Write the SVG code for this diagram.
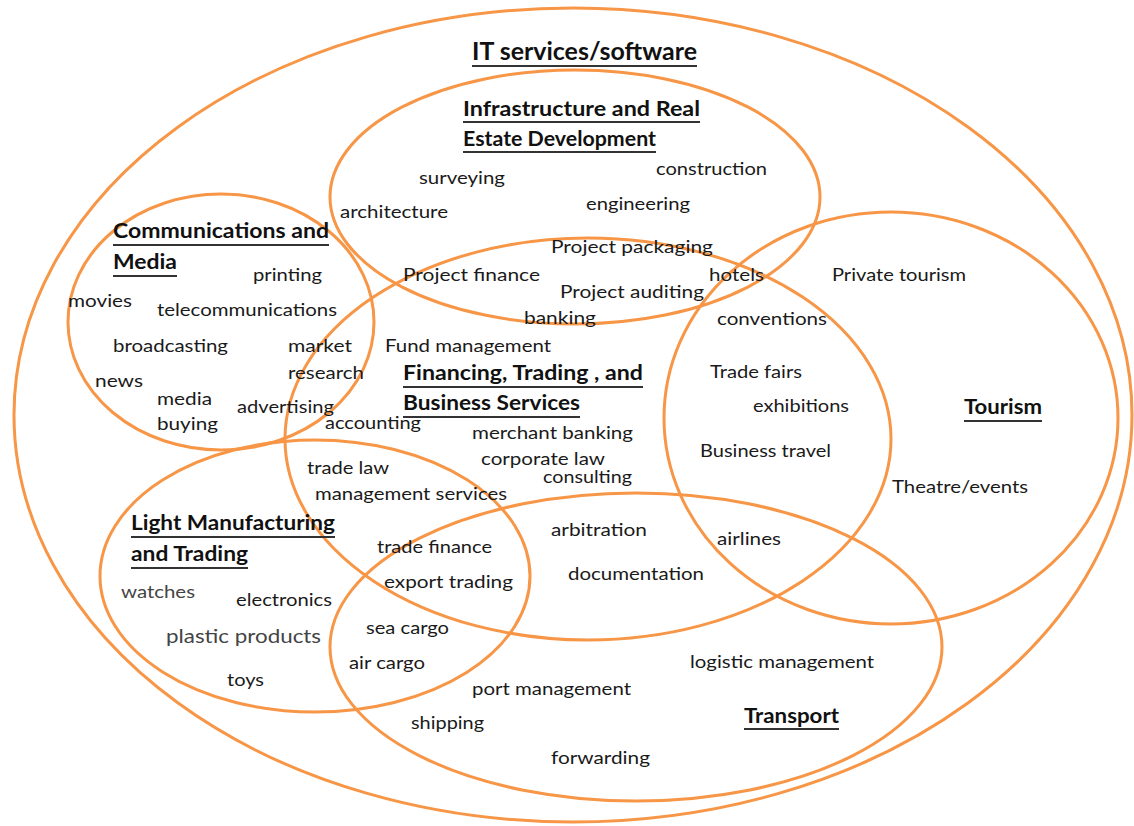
<svg xmlns="http://www.w3.org/2000/svg" width="1134" height="826" viewBox="0 0 1134 826">
  <style>
    .set { fill: none; stroke: #F79646; stroke-width: 3; }
    .head { font-family: Lato, "Liberation Sans", sans-serif; font-weight: bold; font-size: 20px; fill: #111; }
    .title { font-family: Lato, "Liberation Sans", sans-serif; font-weight: bold; font-size: 25px; fill: #111; }
    .uline { stroke: #333; stroke-width: 2; }
    .item { font-family: Lato, "Liberation Sans", sans-serif; font-size: 18px; fill: #1a1a1a; }
    .soft { fill: #444; }
  </style>
  <rect width="1134" height="826" fill="#fff"/>

  <!-- outer set -->
  <g id="it-services">
    <ellipse class="set" cx="573" cy="415" rx="559" ry="407"/>
    <text class="title" x="472" y="60" textLength="225" lengthAdjust="spacingAndGlyphs">IT services/software</text>
    <line class="uline" x1="472" y1="66" x2="697" y2="66"/>
  </g>

  <g id="infrastructure">
    <ellipse class="set" cx="575" cy="197" rx="245" ry="127"/>
    <text class="head" x="463" y="116" textLength="237" lengthAdjust="spacingAndGlyphs">Infrastructure and Real</text>
    <line class="uline" x1="463" y1="122" x2="700" y2="122"/>
    <text class="head" x="463" y="146" textLength="193" lengthAdjust="spacingAndGlyphs">Estate Development</text>
    <line class="uline" x1="463" y1="152" x2="656" y2="152"/>
  </g>

  <g id="communications">
    <ellipse class="set" cx="221" cy="322" rx="153" ry="128"/>
    <text class="head" x="113" y="238" textLength="216" lengthAdjust="spacingAndGlyphs">Communications  and</text>
    <line class="uline" x1="113" y1="245" x2="329" y2="245"/>
    <text class="head" x="113" y="269" textLength="64" lengthAdjust="spacingAndGlyphs">Media</text>
    <line class="uline" x1="113" y1="276" x2="177" y2="276"/>
  </g>

  <g id="financing">
    <ellipse class="set" cx="588" cy="439" rx="303" ry="201"/>
    <text class="head" x="403" y="380" textLength="240" lengthAdjust="spacingAndGlyphs">Financing, Trading , and</text>
    <line class="uline" x1="403" y1="387" x2="643" y2="387"/>
    <text class="head" x="403" y="410" textLength="177" lengthAdjust="spacingAndGlyphs">Business Services</text>
    <line class="uline" x1="403" y1="417" x2="580" y2="417"/>
  </g>

  <g id="tourism">
    <ellipse class="set" cx="891" cy="418" rx="227" ry="206"/>
    <text class="head" x="964" y="414" textLength="78" lengthAdjust="spacingAndGlyphs">Tourism</text>
    <line class="uline" x1="964" y1="421" x2="1042" y2="421"/>
  </g>

  <g id="light-manufacturing">
    <ellipse class="set" cx="315" cy="576" rx="215" ry="136"/>
    <text class="head" x="131" y="530" textLength="204" lengthAdjust="spacingAndGlyphs">Light Manufacturing</text>
    <line class="uline" x1="131" y1="537" x2="335" y2="537"/>
    <text class="head" x="131" y="561" textLength="117" lengthAdjust="spacingAndGlyphs">and Trading</text>
    <line class="uline" x1="131" y1="568" x2="248" y2="568"/>
  </g>

  <g id="transport">
    <ellipse class="set" cx="636" cy="647" rx="306" ry="154"/>
    <text class="head" x="744" y="723" textLength="95" lengthAdjust="spacingAndGlyphs">Transport</text>
    <line class="uline" x1="744" y1="729" x2="839" y2="729"/>
  </g>

  <!-- activities placed by the sets they belong to -->
  <g id="items" class="item">
    <text x="419" y="184" textLength="86" lengthAdjust="spacingAndGlyphs">surveying</text>
    <text x="656" y="175" textLength="111" lengthAdjust="spacingAndGlyphs">construction</text>
    <text x="340" y="218" textLength="108" lengthAdjust="spacingAndGlyphs">architecture</text>
    <text x="586" y="210" textLength="104" lengthAdjust="spacingAndGlyphs">engineering</text>
    <text x="551" y="253" textLength="162" lengthAdjust="spacingAndGlyphs">Project  packaging</text>
    <text x="253" y="281" textLength="69" lengthAdjust="spacingAndGlyphs">printing</text>
    <text x="403" y="281" textLength="137" lengthAdjust="spacingAndGlyphs">Project  finance</text>
    <text x="709" y="281" textLength="55" lengthAdjust="spacingAndGlyphs">hotels</text>
    <text x="832" y="281" textLength="134" lengthAdjust="spacingAndGlyphs">Private tourism</text>
    <text x="68" y="307" textLength="64" lengthAdjust="spacingAndGlyphs">movies</text>
    <text x="157" y="316" textLength="180" lengthAdjust="spacingAndGlyphs">telecommunications</text>
    <text x="560" y="298" textLength="144" lengthAdjust="spacingAndGlyphs">Project  auditing</text>
    <text x="524" y="324" textLength="72" lengthAdjust="spacingAndGlyphs">banking</text>
    <text x="717" y="325" textLength="110" lengthAdjust="spacingAndGlyphs">conventions</text>
    <text x="113" y="352" textLength="115" lengthAdjust="spacingAndGlyphs">broadcasting</text>
    <text x="288" y="352" textLength="64" lengthAdjust="spacingAndGlyphs">market</text>
    <text x="385" y="352" textLength="166" lengthAdjust="spacingAndGlyphs">Fund management</text>
    <text x="288" y="379" textLength="76" lengthAdjust="spacingAndGlyphs">research</text>
    <text x="95" y="387" textLength="48" lengthAdjust="spacingAndGlyphs">news</text>
    <text x="710" y="378" textLength="92" lengthAdjust="spacingAndGlyphs">Trade fairs</text>
    <text x="157" y="405" textLength="55" lengthAdjust="spacingAndGlyphs">media</text>
    <text x="237" y="413" textLength="97" lengthAdjust="spacingAndGlyphs">advertising</text>
    <text x="753" y="412" textLength="96" lengthAdjust="spacingAndGlyphs">exhibitions</text>
    <text x="157" y="430" textLength="61" lengthAdjust="spacingAndGlyphs">buying</text>
    <text x="325" y="429" textLength="96" lengthAdjust="spacingAndGlyphs">accounting</text>
    <text x="472" y="439" textLength="161" lengthAdjust="spacingAndGlyphs">merchant banking</text>
    <text x="700" y="457" textLength="131" lengthAdjust="spacingAndGlyphs">Business travel</text>
    <text x="307" y="474" textLength="82" lengthAdjust="spacingAndGlyphs">trade law</text>
    <text x="481" y="465" textLength="124" lengthAdjust="spacingAndGlyphs">corporate law</text>
    <text x="543" y="483" textLength="89" lengthAdjust="spacingAndGlyphs">consulting</text>
    <text x="892" y="493" textLength="136" lengthAdjust="spacingAndGlyphs">Theatre/events</text>
    <text x="315" y="500" textLength="192" lengthAdjust="spacingAndGlyphs">management services</text>
    <text x="551" y="536" textLength="96" lengthAdjust="spacingAndGlyphs">arbitration</text>
    <text x="717" y="545" textLength="64" lengthAdjust="spacingAndGlyphs">airlines</text>
    <text x="377" y="553" textLength="115" lengthAdjust="spacingAndGlyphs">trade finance</text>
    <text x="568" y="580" textLength="136" lengthAdjust="spacingAndGlyphs">documentation</text>
    <text x="384" y="588" textLength="129" lengthAdjust="spacingAndGlyphs">export  trading</text>
    <text class="soft" x="121" y="598" textLength="74" lengthAdjust="spacingAndGlyphs">watches</text>
    <text x="236" y="606" textLength="96" lengthAdjust="spacingAndGlyphs">electronics</text>
    <text x="366" y="634" textLength="83" lengthAdjust="spacingAndGlyphs">sea cargo</text>
    <text class="soft" x="166" y="643" font-size="20" textLength="155" lengthAdjust="spacingAndGlyphs">plastic products</text>
    <text x="349" y="669" textLength="76" lengthAdjust="spacingAndGlyphs">air cargo</text>
    <text x="690" y="668" textLength="184" lengthAdjust="spacingAndGlyphs">logistic management</text>
    <text x="227" y="686" textLength="37" lengthAdjust="spacingAndGlyphs">toys</text>
    <text x="472" y="695" textLength="159" lengthAdjust="spacingAndGlyphs">port management</text>
    <text x="411" y="729" textLength="73" lengthAdjust="spacingAndGlyphs">shipping</text>
    <text x="551" y="764" textLength="99" lengthAdjust="spacingAndGlyphs">forwarding</text>
  </g>
</svg>
